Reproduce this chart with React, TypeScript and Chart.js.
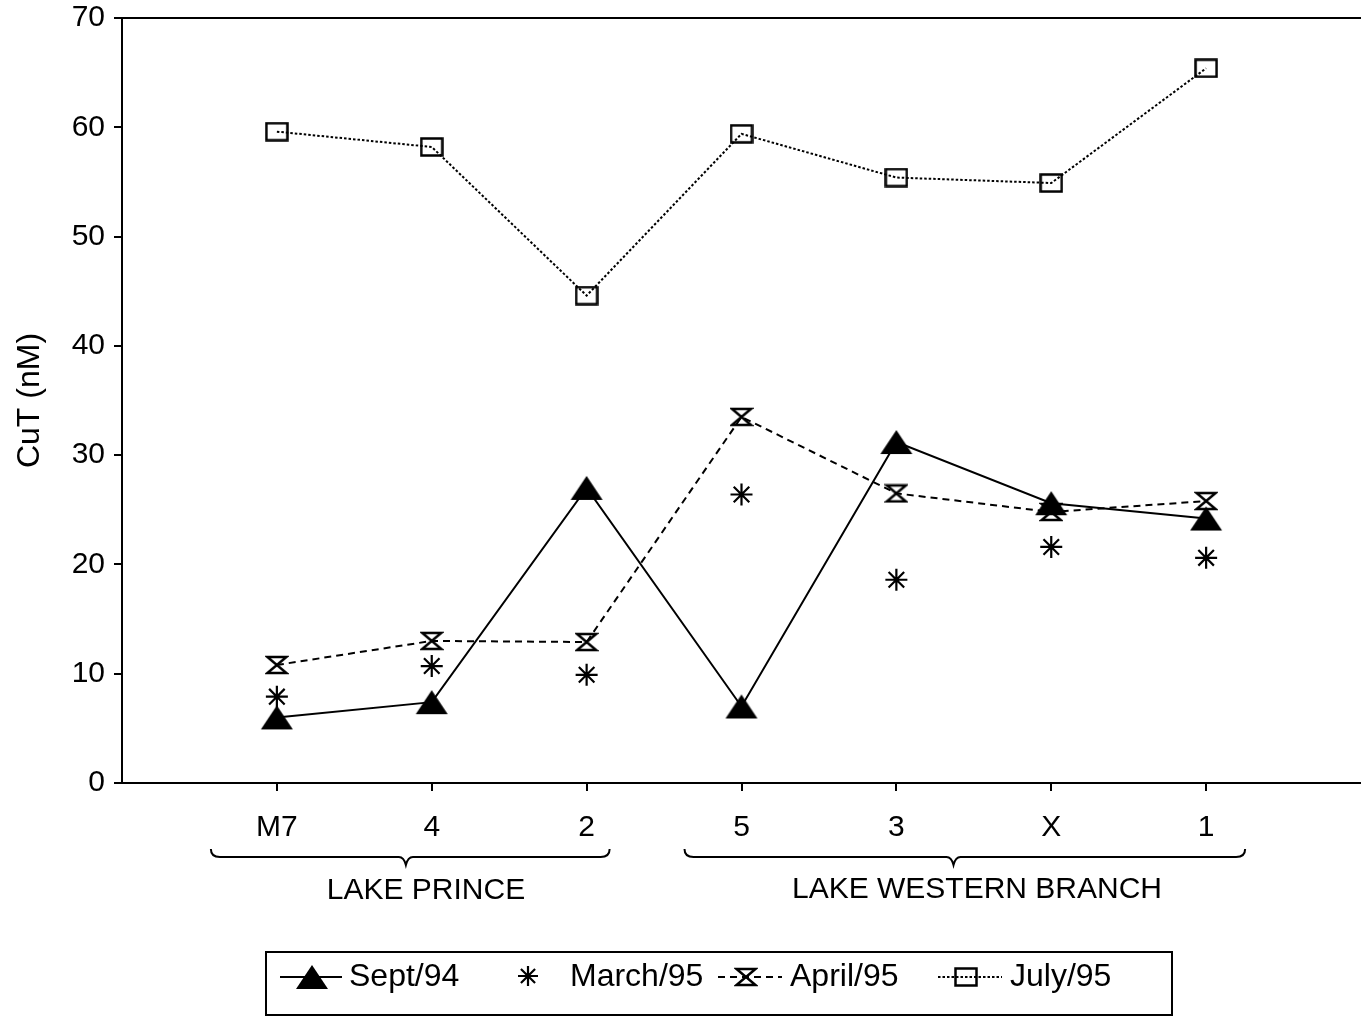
import React, { useEffect, useRef } from "react";
import { Chart, registerables } from "chart.js";

Chart.register(...registerables);

const categories = ["M7", "4", "2", "5", "3", "X", "1"];
const sept94 = [6.0, 7.4, 27.0, 7.0, 31.2, 25.6, 24.2];
const march95 = [7.9, 10.7, 9.9, 26.4, 18.6, 21.6, 20.6];
const april95 = [10.8, 13.0, 12.9, 33.5, 26.5, 24.8, 25.8];
const july95 = [59.6, 58.2, 44.6, 59.4, 55.4, 54.9, 65.4];
const yTicks = [0, 10, 20, 30, 40, 50, 60, 70];
const seriesNames = ["Sept/94", "March/95", "April/95", "July/95"];
const groupNames = ["LAKE PRINCE", "LAKE WESTERN BRANCH"];

const FONT = "'Liberation Sans', Arial, Helvetica, sans-serif";

function makeCanvas(w: number, h: number, draw: (ctx: CanvasRenderingContext2D) => void) {
  const c = document.createElement("canvas");
  c.width = w;
  c.height = h;
  const ctx = c.getContext("2d")!;
  draw(ctx);
  return c;
}

function triangleImg() {
  return makeCanvas(34, 26, (ctx) => {
    ctx.fillStyle = "#000";
    ctx.beginPath();
    ctx.moveTo(1, 25);
    ctx.lineTo(17, 1);
    ctx.lineTo(33, 25);
    ctx.closePath();
    ctx.fill();
  });
}

function hourglassImg() {
  return makeCanvas(24, 20, (ctx) => {
    ctx.strokeStyle = "#000";
    ctx.lineWidth = 2.5;
    ctx.lineJoin = "miter";
    ctx.beginPath();
    ctx.moveTo(2.5, 2);
    ctx.lineTo(21.5, 2);
    ctx.lineTo(2.5, 18);
    ctx.lineTo(21.5, 18);
    ctx.closePath();
    ctx.stroke();
  });
}

function squareImg() {
  return makeCanvas(24, 20, (ctx) => {
    ctx.strokeStyle = "#000";
    ctx.lineWidth = 2.5;
    ctx.strokeRect(1.5, 1.5, 21, 17);
  });
}

function drawStar(ctx: CanvasRenderingContext2D, x: number, y: number, r: number) {
  ctx.save();
  ctx.strokeStyle = "#000";
  ctx.lineWidth = 2.2;
  ctx.beginPath();
  for (let i = 0; i < 4; i++) {
    const a = (i * Math.PI) / 4;
    ctx.moveTo(x - Math.cos(a) * r, y - Math.sin(a) * r);
    ctx.lineTo(x + Math.cos(a) * r, y + Math.sin(a) * r);
  }
  ctx.stroke();
  ctx.restore();
}

function drawBrace(ctx: CanvasRenderingContext2D, x1: number, x2: number, tip: number, yTop: number) {
  const yMid = yTop + 8;
  const yTip = yTop + 16;
  ctx.save();
  ctx.strokeStyle = "#000";
  ctx.lineWidth = 2;
  ctx.beginPath();
  ctx.moveTo(x1, yTop);
  ctx.quadraticCurveTo(x1, yMid, x1 + 9, yMid);
  ctx.lineTo(tip - 7, yMid);
  ctx.quadraticCurveTo(tip - 2, yMid, tip, yTip);
  ctx.quadraticCurveTo(tip + 2, yMid, tip + 7, yMid);
  ctx.lineTo(x2 - 9, yMid);
  ctx.quadraticCurveTo(x2, yMid, x2, yTop);
  ctx.stroke();
  ctx.restore();
}

export default function App() {
  const ref = useRef<HTMLCanvasElement | null>(null);

  useEffect(() => {
    if (!ref.current) return;
    const tri = triangleImg();
    const hour = hourglassImg();
    const sq = squareImg();

    const toXY = (arr: number[]) => arr.map((v, i) => ({ x: i + 1, y: v }));

    const decor = {
      id: "decor",
      afterDraw(chart: any) {
        const ctx = chart.ctx as CanvasRenderingContext2D;
        const ca = chart.chartArea;
        const xs = chart.scales.x;
        ctx.save();
        // top border line
        ctx.strokeStyle = "#000";
        ctx.lineWidth = 2;
        ctx.beginPath();
        ctx.moveTo(ca.left, ca.top);
        ctx.lineTo(ca.right, ca.top);
        ctx.stroke();

        // braces
        const p = (i: number) => xs.getPixelForValue(i + 1);
        drawBrace(ctx, p(0) - 66, p(2) + 23, p(0) + 129, 849);
        drawBrace(ctx, p(3) - 57, p(6) + 39, p(3) + 212, 849);

        ctx.fillStyle = "#000";
        ctx.font = `30px ${FONT}`;
        ctx.textAlign = "center";
        ctx.textBaseline = "middle";
        ctx.fillText(groupNames[0], 426, 891);
        ctx.fillText(groupNames[1], 977, 890);

        // legend box
        ctx.lineWidth = 2;
        ctx.strokeRect(266, 952, 906, 63);
        const ly = 977;
        ctx.font = `32px ${FONT}`;
        ctx.textAlign = "left";
        // Sept/94
        ctx.setLineDash([]);
        ctx.beginPath();
        ctx.moveTo(280, ly);
        ctx.lineTo(342, ly);
        ctx.stroke();
        ctx.drawImage(tri, 312 - 17, ly - 13);
        ctx.fillText(seriesNames[0], 349, ly);
        // March/95
        drawStar(ctx, 528, ly - 1, 10);
        ctx.fillText(seriesNames[1], 570, ly);
        // April/95
        ctx.setLineDash([7, 5]);
        ctx.beginPath();
        ctx.moveTo(718, ly);
        ctx.lineTo(782, ly);
        ctx.stroke();
        ctx.setLineDash([]);
        ctx.drawImage(hour, 746 - 12, ly - 10);
        ctx.fillText(seriesNames[2], 790, ly);
        // July/95
        ctx.setLineDash([2.5, 2]);
        ctx.beginPath();
        ctx.moveTo(938, ly);
        ctx.lineTo(1002, ly);
        ctx.stroke();
        ctx.setLineDash([]);
        ctx.drawImage(sq, 966 - 12, ly - 10);
        ctx.fillText(seriesNames[3], 1010, ly);
        ctx.restore();
      },
    };

    const chart = new Chart(ref.current, {
      type: "line",
      data: {
        datasets: [
          {
            label: seriesNames[0],
            data: toXY(sept94),
            borderColor: "#000",
            borderWidth: 2,
            pointStyle: tri as any,
            pointRadius: 12,
            tension: 0,
          },
          {
            label: seriesNames[1],
            data: toXY(march95),
            borderColor: "#000",
            borderWidth: 2.2,
            showLine: false,
            pointStyle: "star",
            pointRadius: 11,
            pointBorderWidth: 2.2,
            pointBorderColor: "#000",
          },
          {
            label: seriesNames[2],
            data: toXY(april95),
            borderColor: "#000",
            borderWidth: 2,
            borderDash: [7, 5],
            pointStyle: hour as any,
            pointRadius: 10,
            tension: 0,
          },
          {
            label: seriesNames[3],
            data: toXY(july95),
            borderColor: "#000",
            borderWidth: 2,
            borderDash: [2.5, 2],
            pointStyle: sq as any,
            pointRadius: 10,
            tension: 0,
          },
        ],
      },
      options: {
        responsive: false,
        animation: false,
        layout: { autoPadding: false, padding: { top: 18, left: 0, right: 0, bottom: 0 } },
        plugins: { legend: { display: false }, tooltip: { enabled: false } },
        scales: {
          x: {
            type: "linear",
            min: 0,
            max: categories.length + 1,
            afterBuildTicks: (scale: any) => {
              scale.ticks = categories.map((_, i) => ({ value: i + 1 }));
            },
            afterFit: (scale: any) => {
              scale.height = 234;
              scale.paddingLeft = 0;
              scale.paddingRight = 0;
            },
            ticks: {
              autoSkip: false,
              maxRotation: 0,
              color: "#000",
              padding: 19,
              font: { family: FONT, size: 30 },
              callback: (v: any) => categories[Number(v) - 1] ?? "",
            },
            grid: { drawOnChartArea: false, color: "#000", lineWidth: 2, tickLength: 8 },
            border: { color: "#000", width: 2 },
          },
          y: {
            min: 0,
            max: 70,
            afterBuildTicks: (scale: any) => {
              scale.ticks = yTicks.map((v) => ({ value: v }));
            },
            afterFit: (scale: any) => {
              scale.width = 122;
              scale.paddingTop = 0;
              scale.paddingBottom = 0;
            },
            ticks: {
              color: "#000",
              padding: 9,
              font: { family: FONT, size: 30 },
            },
            grid: { drawOnChartArea: false, color: "#000", lineWidth: 2, tickLength: 8 },
            border: { color: "#000", width: 2 },
            title: {
              display: true,
              text: "CuT (nM)",
              color: "#000",
              font: { family: FONT, size: 32 },
              padding: { top: 11, bottom: 0 },
            },
          },
        },
      },
      plugins: [decor],
    });
    return () => chart.destroy();
  }, []);

  return (
    <div style={{ position: "absolute", left: 0, top: 0, width: 1361, height: 1017, background: "#fff" }}>
      <canvas ref={ref} width={1361} height={1017} style={{ width: 1361, height: 1017, display: "block" }} />
    </div>
  );
}
